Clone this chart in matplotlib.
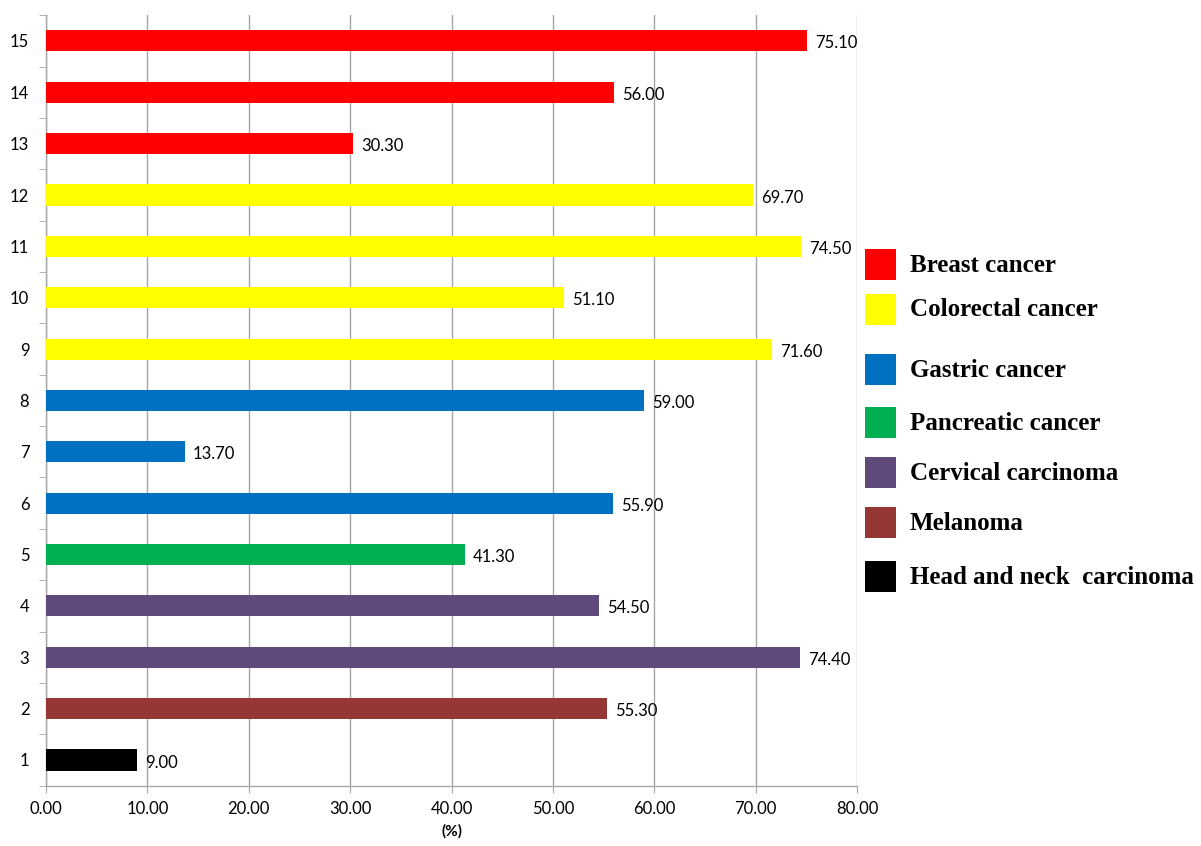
import matplotlib.pyplot as plt
from matplotlib.patches import Rectangle

# data
cats = list(range(1, 16))
values = [9.00, 55.30, 74.40, 54.50, 41.30, 55.90, 13.70, 59.00,
          71.60, 51.10, 74.50, 69.70, 30.30, 56.00, 75.10]
groups = ['Head and neck  carcinoma', 'Melanoma', 'Cervical carcinoma', 'Cervical carcinoma',
          'Pancreatic cancer', 'Gastric cancer', 'Gastric cancer', 'Gastric cancer',
          'Colorectal cancer', 'Colorectal cancer', 'Colorectal cancer', 'Colorectal cancer',
          'Breast cancer', 'Breast cancer', 'Breast cancer']
legend_names = ['Breast cancer', 'Colorectal cancer', 'Gastric cancer', 'Pancreatic cancer',
                'Cervical carcinoma', 'Melanoma', 'Head and neck  carcinoma']
legend_colors = ['#FF0000', '#FFFF00', '#0070C0', '#00B050', '#604A7B', '#953735', '#000000']
color_map = dict(zip(legend_names, legend_colors))


def main():
    plt.rcParams['font.family'] = ['Lato', 'DejaVu Sans']
    fig = plt.figure(figsize=(12.01, 8.46), dpi=100)
    ax = fig.add_axes([0.0383, 0.0713, 0.6753, 0.9107])

    colors = [color_map[g] for g in groups]
    ax.barh(cats, values, height=0.41, color=colors, zorder=3)
    for c, v in zip(cats, values):
        ax.text(v + 0.8, c - 0.05, '%.2f' % v, va='center', ha='left', fontsize=12, zorder=4)

    ax.set_xlim(0, 80)
    ax.set_ylim(0.5, 15.5)
    ax.set_xticks(range(0, 81, 10))
    ax.set_xticklabels(['%.2f' % t for t in range(0, 81, 10)], fontsize=12)
    ax.set_yticks(cats)
    ax.set_yticklabels([str(c) for c in cats], fontsize=12)
    ax.tick_params(axis='y', length=0, pad=12)
    ax.set_yticks([c + 0.5 for c in range(0, 16)], minor=True)
    ax.tick_params(axis='y', which='minor', length=5, color='#a6a6a6', direction='out')
    ax.tick_params(axis='x', length=5, color='#a6a6a6', direction='out', pad=6)
    ax.grid(axis='x', color='#a6a6a6', linewidth=1, zorder=0)
    for s in ['top', 'right']:
        ax.spines[s].set_visible(False)
    for s in ['left', 'bottom']:
        ax.spines[s].set_color('#a6a6a6')
        ax.spines[s].set_linewidth(1)
    ax.set_xlabel('(%)', fontsize=11, fontweight='bold', labelpad=5)

    # legend drawn in figure coordinates
    ys = [265, 310, 370, 423, 473, 523, 577]
    W, H = 1201, 846
    for name, col, y in zip(legend_names, legend_colors, ys):
        fig.patches.append(Rectangle((865 / W, 1 - (y + 15) / H), 31 / W, 31 / H,
                                     transform=fig.transFigure, facecolor=col,
                                     edgecolor='none'))
        fig.text(910 / W, 1 - y / H, name, fontsize=18, fontweight='bold',
                 family=['Liberation Serif'], va='center', ha='left')

    plt.savefig('out.png', dpi=100)


if __name__ == '__main__':
    main()
